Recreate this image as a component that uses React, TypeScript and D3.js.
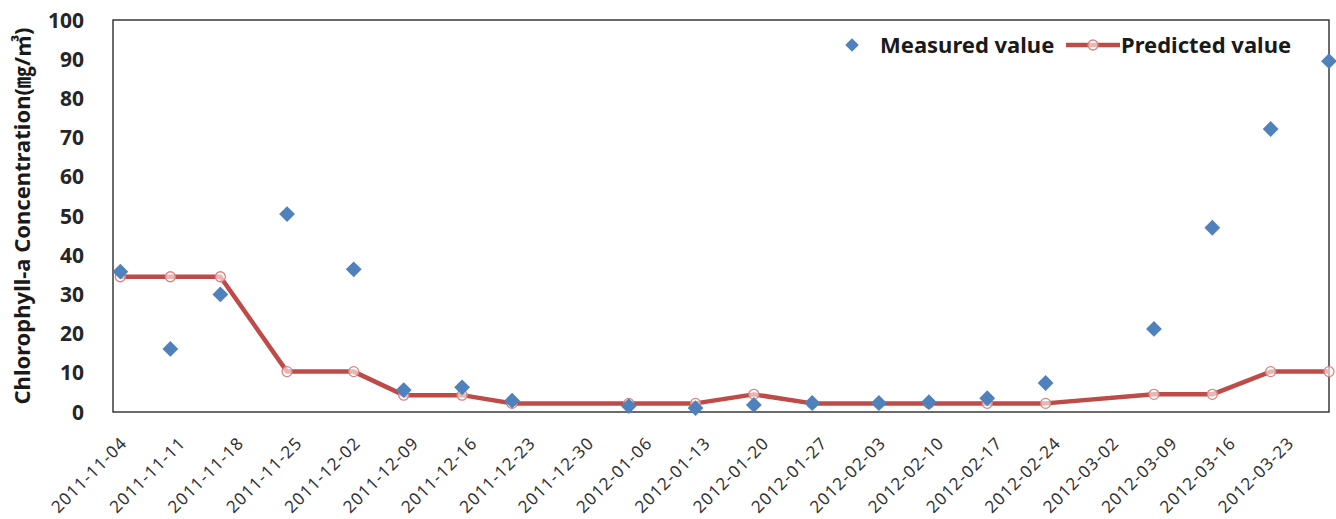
import * as d3 from 'd3'
import { useEffect, useRef } from 'react'

const sampleDates = [
  '2011-11-05', '2011-11-11', '2011-11-17', '2011-11-25', '2011-12-03',
  '2011-12-09', '2011-12-16', '2011-12-22', '2012-01-05', '2012-01-13',
  '2012-01-20', '2012-01-27', '2012-02-04', '2012-02-10', '2012-02-17',
  '2012-02-24', '2012-03-08', '2012-03-15', '2012-03-22', '2012-03-29',
]
const measured = [35.8, 16.1, 30.0, 50.5, 36.4, 5.6, 6.3, 2.9, 1.5, 1.0, 1.8, 2.3, 2.3, 2.5, 3.5, 7.4, 21.2, 47.0, 72.2, 89.5]
const predicted = [34.5, 34.5, 34.5, 10.3, 10.3, 4.3, 4.3, 2.2, 2.2, 2.2, 4.5, 2.2, 2.2, 2.2, 2.2, 2.2, 4.5, 4.5, 10.3, 10.3]
const tickLabels = [
  '2011-11-04', '2011-11-11', '2011-11-18', '2011-11-25', '2011-12-02',
  '2011-12-09', '2011-12-16', '2011-12-23', '2011-12-30', '2012-01-06',
  '2012-01-13', '2012-01-20', '2012-01-27', '2012-02-03', '2012-02-10',
  '2012-02-17', '2012-02-24', '2012-03-02', '2012-03-09', '2012-03-16',
  '2012-03-23',
]
const yTicks = [0, 10, 20, 30, 40, 50, 60, 70, 80, 90, 100]

const FONT = "'Noto Sans', 'Noto Sans CJK KR', sans-serif"
const BLUE = '#4F81BD'
const RED = '#BE4B48'
const RED_LIGHT = '#D98380'

const App = () => {
  const svgRef = useRef<SVGSVGElement>(null)

  useEffect(() => {
    document.body.style.margin = '0'
    const svg = d3.select(svgRef.current)
    svg.selectAll('*').remove()

    const parse = d3.timeParse('%Y-%m-%d')
    const left = 113
    const right = 1329
    const top = 20
    const bottom = 412

    const x = d3
      .scaleTime()
      .domain([parse('2011-11-04') as Date, parse('2012-03-29') as Date])
      .range([112, right])
    const y = d3.scaleLinear().domain([0, 100]).range([bottom, top])

    const rows = sampleDates.map((d, i) => ({
      date: parse(d) as Date,
      m: measured[i],
      p: predicted[i],
    }))

    // plot frame
    svg
      .append('rect')
      .attr('x', left)
      .attr('y', top)
      .attr('width', right - left)
      .attr('height', bottom - top)
      .attr('fill', 'none')
      .attr('stroke', '#3a3a3a')
      .attr('stroke-width', 1.5)

    // y ticks
    svg
      .append('g')
      .selectAll('text')
      .data(yTicks)
      .join('text')
      .attr('x', 84)
      .attr('y', (d) => y(d))
      .attr('dy', '0.36em')
      .attr('text-anchor', 'end')
      .style('font-family', FONT)
      .style('font-weight', 'bold')
      .style('font-size', '21px')
      .attr('fill', '#262626')
      .text((d) => d)

    // y title
    svg
      .append('text')
      .attr('transform', `translate(30, 216) rotate(-90)`)
      .attr('text-anchor', 'middle')
      .style('font-family', FONT)
      .style('font-weight', 'bold')
      .style('font-size', '22px')
      .attr('fill', '#1a1a1a')
      .text('Chlorophyll-a Concentration(㎎/㎥)')

    // x tick labels
    svg
      .append('g')
      .selectAll('text')
      .data(tickLabels)
      .join('text')
      .attr('transform', (d) => `translate(${x(parse(d) as Date) + 12}, ${bottom + 28}) rotate(-45)`)
      .attr('text-anchor', 'end')
      .attr('dy', '0.35em')
      .style('font-family', FONT)
      .style('font-size', '17px')
      .style('letter-spacing', '1px')
      .attr('fill', '#333')
      .text((d) => d)

    // predicted line
    const line = d3
      .line<{ date: Date; p: number }>()
      .x((d) => x(d.date))
      .y((d) => y(d.p))
    svg
      .append('path')
      .datum(rows)
      .attr('d', line)
      .attr('fill', 'none')
      .attr('stroke', RED)
      .attr('stroke-width', 4.5)
      .attr('stroke-linejoin', 'round')

    svg
      .append('g')
      .selectAll('circle')
      .data(rows)
      .join('circle')
      .attr('cx', (d) => x(d.date))
      .attr('cy', (d) => y(d.p))
      .attr('r', 5)
      .attr('fill', '#fff')
      .attr('fill-opacity', 0.6)
      .attr('stroke', RED_LIGHT)
      .attr('stroke-width', 1.3)

    // measured diamonds
    const diamond = d3.symbol(d3.symbolSquare, 125)
    svg
      .append('g')
      .selectAll('path')
      .data(rows)
      .join('path')
      .attr('d', diamond)
      .attr('transform', (d) => `translate(${x(d.date)}, ${y(d.m)}) rotate(45)`)
      .attr('fill', BLUE)

    // legend
    const lg = svg.append('g')
    lg.append('path')
      .attr('d', diamond)
      .attr('transform', 'translate(852, 45) rotate(45) scale(0.85)')
      .attr('fill', BLUE)
    lg.append('text')
      .attr('x', 880)
      .attr('y', 45)
      .attr('dy', '0.36em')
      .style('font-family', FONT)
      .style('font-weight', 'bold')
      .style('font-size', '22px')
      .attr('fill', '#1a1a1a')
      .text('Measured value')
    lg.append('line')
      .attr('x1', 1066)
      .attr('x2', 1120)
      .attr('y1', 45)
      .attr('y2', 45)
      .attr('stroke', RED)
      .attr('stroke-width', 4.5)
    lg.append('circle')
      .attr('cx', 1093)
      .attr('cy', 45)
      .attr('r', 5)
      .attr('fill', '#fff')
      .attr('fill-opacity', 0.6)
      .attr('stroke', RED_LIGHT)
      .attr('stroke-width', 1.3)
    lg.append('text')
      .attr('x', 1121)
      .attr('y', 45)
      .attr('dy', '0.36em')
      .style('font-family', FONT)
      .style('font-weight', 'bold')
      .style('font-size', '22px')
      .attr('fill', '#1a1a1a')
      .text('Predicted value')
  }, [])

  return <svg ref={svgRef} width={1336} height={519} style={{ display: 'block', background: '#fff' }} />
}

export default App
